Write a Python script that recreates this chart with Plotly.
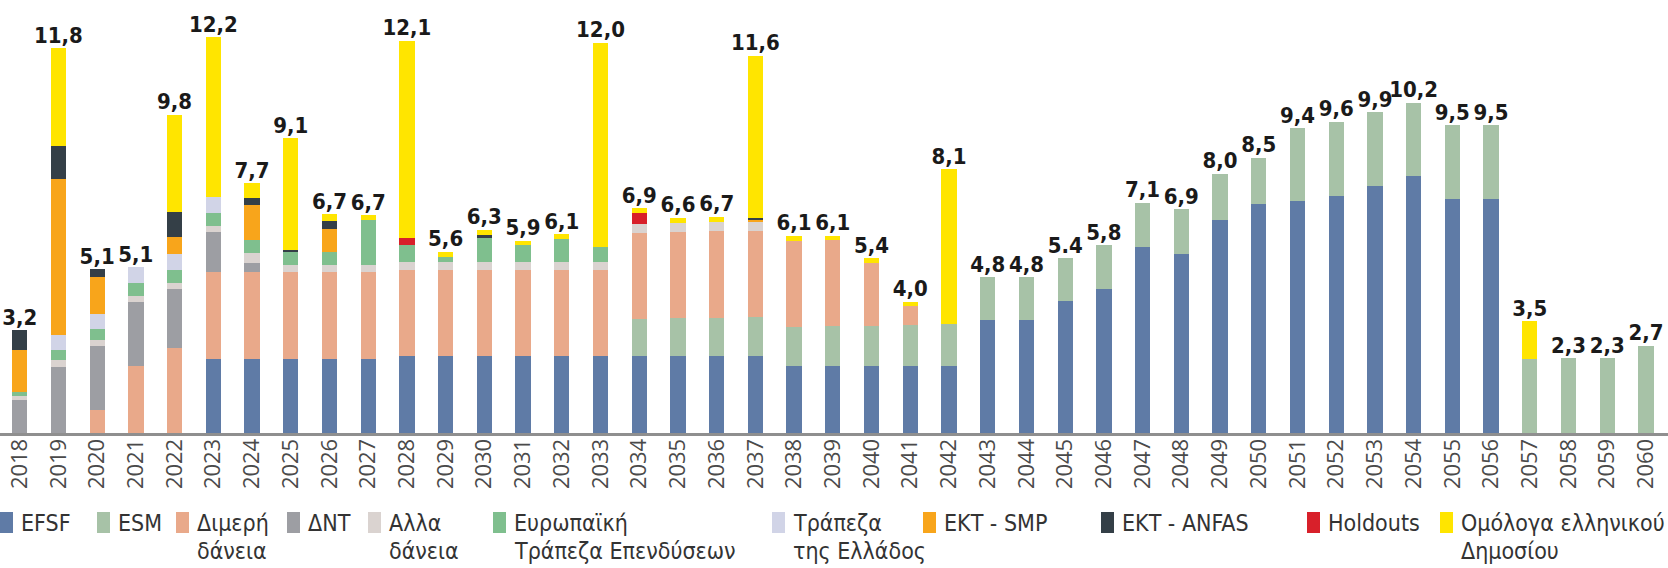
import plotly.graph_objects as go

years = list(range(2018, 2061))

efsf = [0, 0, 0, 0, 0, 2.29, 2.29, 2.29, 2.29, 2.29, 2.38, 2.38, 2.38, 2.38, 2.38, 2.38,
        2.38, 2.38, 2.38, 2.38, 2.06, 2.06, 2.06, 2.06, 2.06, 3.5, 3.5, 4.07, 4.45, 5.74,
        5.53, 6.57, 7.07, 7.17, 7.33, 7.63, 7.93, 7.23, 7.23, 0, 0, 0, 0]
esm = [0, 0, 0, 0, 0, 0, 0, 0, 0, 0, 0, 0, 0, 0, 0, 0,
       1.15, 1.17, 1.18, 1.2, 1.21, 1.23, 1.24, 1.27, 1.3, 1.3, 1.3, 1.33, 1.35, 1.36,
       1.37, 1.43, 1.43, 2.23, 2.27, 2.27, 2.27, 2.27, 2.27, 2.27, 2.3, 2.3, 2.7]
bilateral = [0, 0, 0.7, 2.07, 2.63, 2.67, 2.67, 2.67, 2.67, 2.67, 2.66, 2.66, 2.66, 2.66, 2.66, 2.66,
             2.64, 2.65, 2.66, 2.65, 2.67, 2.67, 1.95, 0.59, 0, 0, 0, 0, 0, 0,
             0, 0, 0, 0, 0, 0, 0, 0, 0, 0, 0, 0, 0]
imf = [1.03, 2.04, 2.0, 1.98, 1.8, 1.23, 0.28] + [0] * 36
other_loans = [0.1, 0.2, 0.17, 0.19, 0.2, 0.2, 0.31, 0.21, 0.21, 0.21, 0.24, 0.24, 0.24, 0.24, 0.24, 0.24,
               0.29, 0.29, 0.3, 0.3] + [0] * 23
eib = [0.15, 0.31, 0.34, 0.4, 0.4, 0.41, 0.41, 0.44, 0.43, 1.39, 0.53, 0.15, 0.75, 0.51, 0.72, 0.46] + [0] * 27
bog = [0, 0.48, 0.46, 0.47, 0.49, 0.48] + [0] * 37
smp = [1.29, 4.81, 1.15, 0, 0.53, 0, 1.09, 0, 0.7, 0, 0, 0, 0, 0, 0, 0,
       0, 0, 0, 0.03] + [0] * 23
anfas = [0.6, 1.03, 0.24, 0, 0.77, 0, 0.21, 0.04, 0.24, 0, 0, 0, 0.07, 0, 0, 0,
         0, 0, 0, 0.09] + [0] * 23
holdouts = [0, 0, 0, 0, 0, 0, 0, 0, 0, 0, 0.21, 0, 0, 0, 0, 0,
            0.33] + [0] * 26
bonds = [0, 3.0, 0, 0, 3.01, 4.94, 0.45, 3.45, 0.21, 0.16, 6.08, 0.17, 0.17, 0.15, 0.13, 6.3,
         0.15, 0.15, 0.16, 5.0, 0.15, 0.13, 0.15, 0.13, 4.78, 0, 0, 0, 0, 0,
         0, 0, 0, 0, 0, 0, 0, 0, 0, 1.18, 0, 0, 0]

total_labels = ["3,2", "11,8", "5,1", "5,1", "9,8", "12,2", "7,7", "9,1", "6,7", "6,7", "12,1",
                "5,6", "6,3", "5,9", "6,1", "12,0", "6,9", "6,6", "6,7", "11,6", "6,1", "6,1",
                "5,4", "4,0", "8,1", "4,8", "4,8", "5.4", "5,8", "7,1", "6,9", "8,0", "8,5",
                "9,4", "9,6", "9,9", "10,2", "9,5", "9,5", "3,5", "2,3", "2,3", "2,7"]

series = [
    ("EFSF", efsf, "#5f7ba6", ["EFSF"]),
    ("ESM", esm, "#a7c2a7", ["ESM"]),
    ("Διμερή δάνεια", bilateral, "#e9a98a", ["Διμερή", "δάνεια"]),
    ("ΔΝΤ", imf, "#9d9ea3", ["ΔΝΤ"]),
    ("Αλλα δάνεια", other_loans, "#dad3d0", ["Αλλα", "δάνεια"]),
    ("Ευρωπαϊκή Τράπεζα Επενδύσεων", eib, "#7fbf8e", ["Ευρωπαϊκή", "Τράπεζα Επενδύσεων"]),
    ("Τράπεζα της Ελλάδος", bog, "#d1d4e7", ["Τράπεζα", "της Ελλάδος"]),
    ("ΕΚΤ - SMP", smp, "#f8a51b", ["ΕΚΤ - SMP"]),
    ("ΕΚΤ - ANFAS", anfas, "#343f47", ["ΕΚΤ - ANFAS"]),
    ("Holdouts", holdouts, "#d8202a", ["Holdouts"]),
    ("Ομόλογα ελληνικού Δημοσίου", bonds, "#ffe500", ["Ομόλογα ελληνικού", "Δημοσίου"]),
]

W, H = 1668, 568
PLOT_TOP, PLOT_BOTTOM = 5, 433
Y_MAX = (PLOT_BOTTOM - PLOT_TOP) / 32.4
NARROW = "DejaVu Sans Condensed, sans-serif"

fig = go.Figure()
for name, vals, color, _ in series:
    fig.add_trace(go.Bar(x=years, y=vals, name=name, marker=dict(color=color, line=dict(width=0)),
                         width=0.395, showlegend=False))

totals = [sum(s[1][i] for s in series) for i in range(len(years))]
fig.add_trace(go.Scatter(x=years, y=totals, mode="text", text=total_labels,
                         textposition="top center", showlegend=False,
                         textfont=dict(family=NARROW, size=22, color="#1a1a1a", weight="bold")))

# legend drawn below the axis
leg_x = [0, 97, 176, 287, 368, 493, 772, 923, 1101, 1307, 1440]
def py2paper(py):
    return (PLOT_BOTTOM - py) / (PLOT_BOTTOM - PLOT_TOP)

shapes = []
annotations = []
legend_font = dict(family=NARROW, size=23, color="#333333")
row_y = [523, 551]
for (name, _, color, lines), lx in zip(series, leg_x):
    shapes.append(dict(type="rect", xref="paper", yref="paper",
                       x0=lx / W, x1=(lx + 13) / W, y0=py2paper(533), y1=py2paper(512),
                       fillcolor=color, line=dict(width=0), layer="above"))
    for j, line in enumerate(lines):
        annotations.append(dict(xref="paper", yref="paper", x=(lx + 19) / W, y=py2paper(row_y[j]),
                                xanchor="left", yanchor="middle", text=line, showarrow=False,
                                font=legend_font))

fig.update_layout(
    width=W, height=H,
    margin=dict(l=0, r=0, t=PLOT_TOP, b=H - PLOT_BOTTOM, pad=0),
    paper_bgcolor="white", plot_bgcolor="white",
    barmode="stack", bargap=0,
    shapes=shapes, annotations=annotations,
    xaxis=dict(range=[2017.491, 2060.569], tickmode="array", tickvals=years,
               ticktext=[str(y) for y in years], tickangle=-90, showgrid=False, zeroline=False,
               showline=True, linecolor="#8f8f8f", linewidth=3, ticks="", ticklabelstandoff=-6,
               tickfont=dict(family="Open Sans, sans-serif", size=22, color="#4a4a4a")),
    yaxis=dict(range=[0, Y_MAX], visible=False, showgrid=False, zeroline=False),
)

fig.write_html("out.html")
